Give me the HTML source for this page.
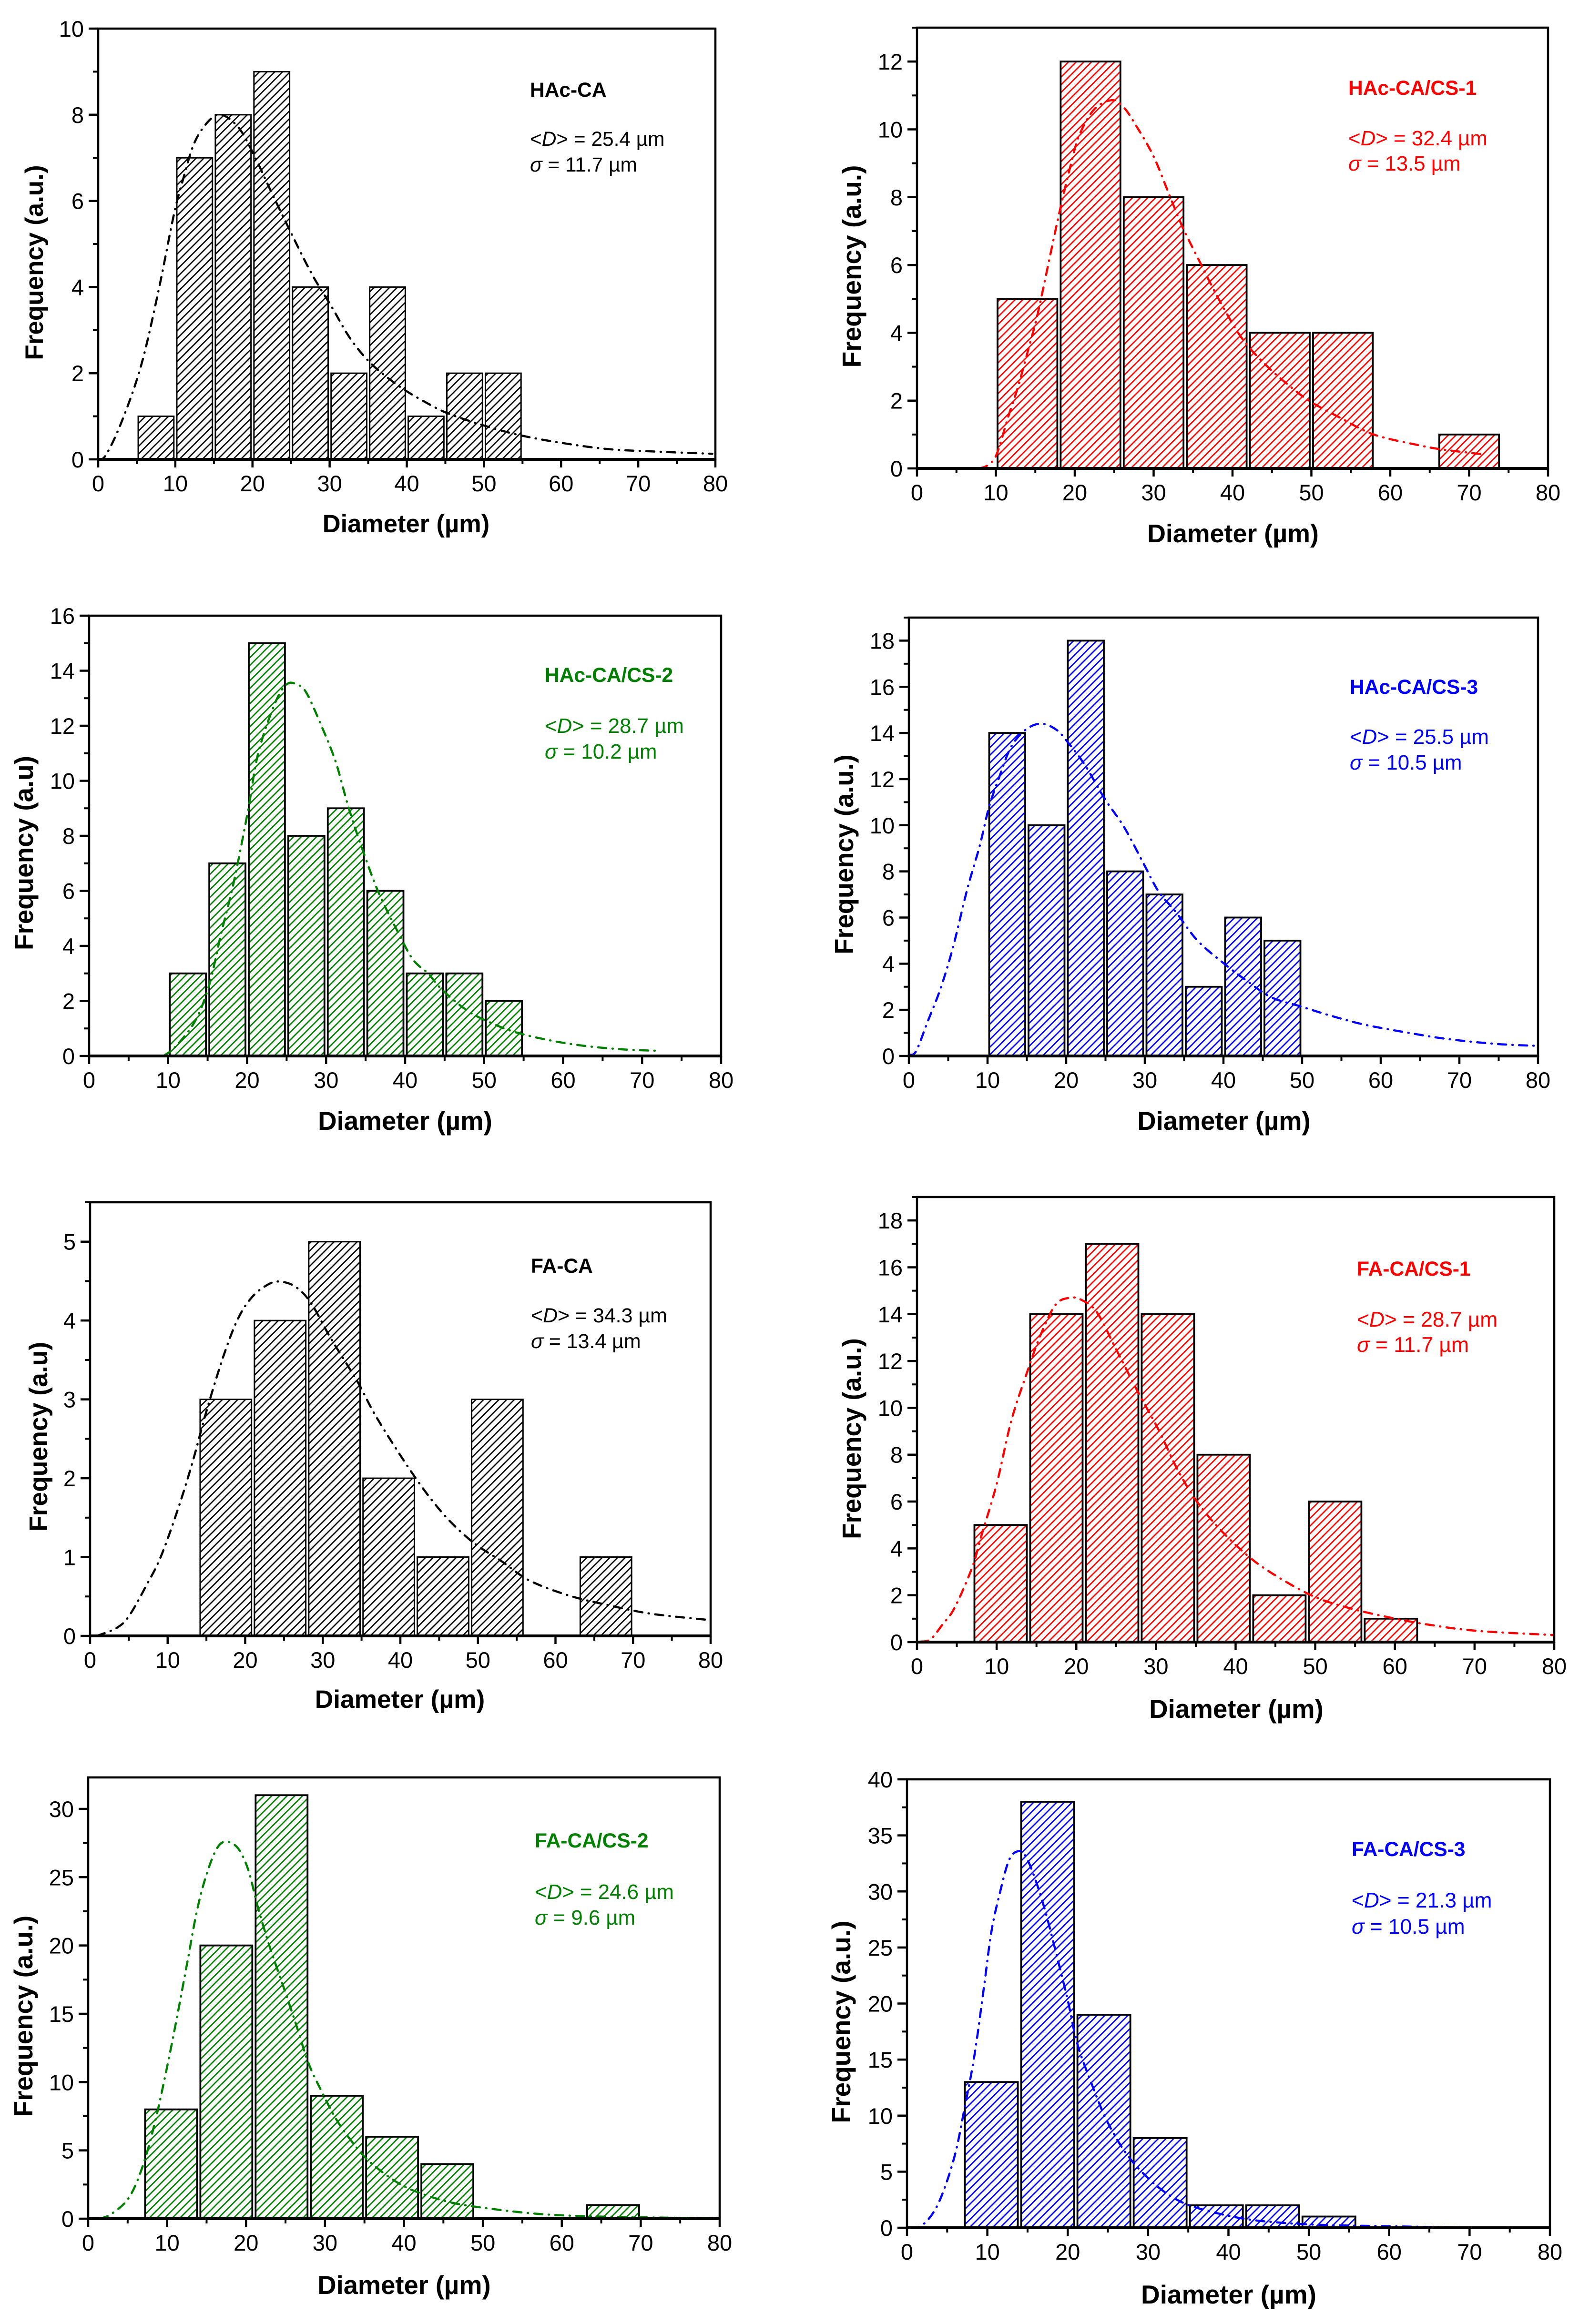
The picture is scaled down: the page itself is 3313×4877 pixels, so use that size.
<!DOCTYPE html>
<html lang="en">
<head>
<meta charset="utf-8">
<title>Fibre diameter histograms</title>
<style>
html,body{margin:0;padding:0;background:#fff}
svg{display:block}
text{font-family:"Liberation Sans",sans-serif;fill:#000}
.tk{font-size:47px}
.xt,.yt{font-weight:bold}
.ttl{font-size:42.5px;font-weight:bold}
.ann tspan.i{font-style:italic}
#c1 .ann{font-size:42.4px} #c1 .xt{font-size:52.4px} #c1 .yt{font-size:53px}
#c2 .ann{font-size:43.8px} #c2 .xt{font-size:53.8px} #c2 .yt{font-size:55px}
#c3 .ann{font-size:43.8px} #c3 .xt{font-size:54.7px} #c3 .yt{font-size:54.8px}
#c4 .ann{font-size:43.8px} #c4 .xt{font-size:54.3px} #c4 .yt{font-size:54.3px}
#c5 .ann{font-size:42.9px} #c5 .xt{font-size:53.3px} #c5 .yt{font-size:53.5px}
#c6 .ann{font-size:44.3px} #c6 .xt{font-size:54.7px} #c6 .yt{font-size:54.6px}
#c7 .ann{font-size:43.8px} #c7 .xt{font-size:54.3px} #c7 .yt{font-size:54.7px}
#c8 .ann{font-size:44.2px} #c8 .xt{font-size:55px} #c8 .yt{font-size:55px}
</style>
</head>
<body>
<svg id="figure" xmlns="http://www.w3.org/2000/svg" width="3313" height="4877" viewBox="0 0 3313 4877">
<defs>
<pattern id="hatch-black" patternUnits="userSpaceOnUse" width="11.4" height="11.4" patternTransform="rotate(45)"><rect width="2.7" height="11.4" fill="#000"/></pattern>
<pattern id="hatch-red" patternUnits="userSpaceOnUse" width="11.4" height="11.4" patternTransform="rotate(45)"><rect width="2.8" height="11.4" fill="#f00"/></pattern>
<pattern id="hatch-green" patternUnits="userSpaceOnUse" width="11.4" height="11.4" patternTransform="rotate(45)"><rect width="2.8" height="11.4" fill="#008000"/></pattern>
<pattern id="hatch-blue" patternUnits="userSpaceOnUse" width="11.4" height="11.4" patternTransform="rotate(45)"><rect width="2.8" height="11.4" fill="#00f"/></pattern>
</defs>
<rect width="3313" height="4877" fill="#fff"/>

<g id="c1">
<g class="marks"></g>
<text class="ttl" x="1112" y="203">HAc-CA</text>
<text class="ann" x="1112" y="306">&lt;<tspan class="i">D</tspan>&gt; = 25.4 µm</text>
<text class="ann" x="1112" y="360"><tspan class="i">σ</tspan> = 11.7 µm</text>
<text class="xt" text-anchor="middle" x="852" y="1117">Diameter (µm)</text>
<text class="yt" text-anchor="middle" transform="translate(90,551) rotate(-90)">Frequency (a.u.)</text>
</g>

<g id="c2">
<g class="marks"></g>
<text class="ttl" x="2829" y="199" style="fill:#f00">HAc-CA/CS-1</text>
<text class="ann" x="2829" y="305" style="fill:#f00">&lt;<tspan class="i">D</tspan>&gt; = 32.4 µm</text>
<text class="ann" x="2829" y="358" style="fill:#f00"><tspan class="i">σ</tspan> = 13.5 µm</text>
<text class="xt" text-anchor="middle" x="2587" y="1138">Diameter (µm)</text>
<text class="yt" text-anchor="middle" transform="translate(1806,559) rotate(-90)">Frequency (a.u.)</text>
</g>

<g id="c3">
<g class="marks"></g>
<text class="ttl" x="1143" y="1431" style="fill:#008000">HAc-CA/CS-2</text>
<text class="ann" x="1143" y="1538" style="fill:#008000">&lt;<tspan class="i">D</tspan>&gt; = 28.7 µm</text>
<text class="ann" x="1143" y="1592" style="fill:#008000"><tspan class="i">σ</tspan> = 10.2 µm</text>
<text class="xt" text-anchor="middle" x="850" y="2371">Diameter (µm)</text>
<text class="yt" text-anchor="middle" transform="translate(69,1790) rotate(-90)">Frequency (a.u)</text>
</g>

<g id="c4">
<g class="marks"></g>
<text class="ttl" x="2832" y="1456" style="fill:#00f">HAc-CA/CS-3</text>
<text class="ann" x="2832" y="1561" style="fill:#00f">&lt;<tspan class="i">D</tspan>&gt; = 25.5 µm</text>
<text class="ann" x="2832" y="1615" style="fill:#00f"><tspan class="i">σ</tspan> = 10.5 µm</text>
<text class="xt" text-anchor="middle" x="2568" y="2371">Diameter (µm)</text>
<text class="yt" text-anchor="middle" transform="translate(1790,1793) rotate(-90)">Frequency (a.u.)</text>
</g>

<g id="c5">
<g class="marks"></g>
<text class="ttl" x="1114" y="2671">FA-CA</text>
<text class="ann" x="1114" y="2775">&lt;<tspan class="i">D</tspan>&gt; = 34.3 µm</text>
<text class="ann" x="1114" y="2829"><tspan class="i">σ</tspan> = 13.4 µm</text>
<text class="xt" text-anchor="middle" x="839" y="3584">Diameter (µm)</text>
<text class="yt" text-anchor="middle" transform="translate(99,3015) rotate(-90)">Frequency (a.u)</text>
</g>

<g id="c6">
<g class="marks"></g>
<text class="ttl" x="2847" y="2677" style="fill:#f00">FA-CA/CS-1</text>
<text class="ann" x="2847" y="2784" style="fill:#f00">&lt;<tspan class="i">D</tspan>&gt; = 28.7 µm</text>
<text class="ann" x="2847" y="2837" style="fill:#f00"><tspan class="i">σ</tspan> = 11.7 µm</text>
<text class="xt" text-anchor="middle" x="2594" y="3605">Diameter (µm)</text>
<text class="yt" text-anchor="middle" transform="translate(1806,3019) rotate(-90)">Frequency (a.u.)</text>
</g>

<g id="c7">
<g class="marks"></g>
<text class="ttl" x="1122" y="3877" style="fill:#008000">FA-CA/CS-2</text>
<text class="ann" x="1122" y="3985" style="fill:#008000">&lt;<tspan class="i">D</tspan>&gt; = 24.6 µm</text>
<text class="ann" x="1122" y="4039" style="fill:#008000"><tspan class="i">σ</tspan> = 9.6 µm</text>
<text class="xt" text-anchor="middle" x="848" y="4814">Diameter (µm)</text>
<text class="yt" text-anchor="middle" transform="translate(68,4231) rotate(-90)">Frequency (a.u.)</text>
</g>

<g id="c8">
<g class="marks"></g>
<text class="ttl" x="2836" y="3895" style="fill:#00f">FA-CA/CS-3</text>
<text class="ann" x="2836" y="4003" style="fill:#00f">&lt;<tspan class="i">D</tspan>&gt; = 21.3 µm</text>
<text class="ann" x="2836" y="4058" style="fill:#00f"><tspan class="i">σ</tspan> = 10.5 µm</text>
<text class="xt" text-anchor="middle" x="2578" y="4834">Diameter (µm)</text>
<text class="yt" text-anchor="middle" transform="translate(1784,4243) rotate(-90)">Frequency (a.u.)</text>
</g>
</svg>

<script>
// Shared x-axis tick labels
const xTickLabels = [0,10,20,30,40,50,60,70,80];

// HAc-CA
const hacCaEdges = [5,10,15,20,25,30,35,40,45,50,55];
const hacCaCounts = [1,7,8,9,4,2,4,1,2,2];
const hacCaFitX = [0,1,3.1,5.6,7.8,9.8,11,12.5,14.4,16,18.2,20.1,22.3,24.8,27.7,30.2,32.7,35.5,39,42.1,45.3,50.3,54.7,59.8,66,72.4,79.6];
const hacCaFitY = [0,0.1,0.9,2.2,3.9,5.67,6.5,7.36,7.87,8,7.7,7.1,6.26,5.33,4.3,3.56,2.8,2.2,1.7,1.36,1.07,0.77,0.56,0.39,0.24,0.18,0.13];
const hacCaYTicks = [0,2,4,6,8,10];

// HAc-CA/CS-1
const hacCs1Edges = [10,18,26,34,42,50,58,66,74];
const hacCs1Counts = [5,12,8,6,4,4,0,1];
const hacCs1FitX = [7.9,9,10.1,11.6,12.8,14.1,15.3,16.9,18.1,19.4,20.6,22.5,24.7,26.2,27.8,30,32.1,33.7,35.9,38,40.5,42.4,44.9,47.4,49.8,53.6,57.9,63.5,66.6,71.6];
const hacCs1FitY = [0,0.1,0.42,1.55,2.4,3.5,4.56,6.3,7.6,8.87,9.84,10.6,10.86,10.65,10.1,9.2,8,7.1,6.07,5.1,4.08,3.49,2.9,2.4,1.98,1.5,1,0.69,0.56,0.42];
const hacCs1YTicks = [0,2,4,6,8,10,12];

// HAc-CA/CS-2
const hacCs2Edges = [10,15,20,25,30,35,40,45,50,55];
const hacCs2Counts = [3,7,15,8,9,6,3,3,2];
const hacCs2FitX = [9.4,10.9,13.4,15.2,16.7,18.3,20.1,21.4,23.5,25,26.3,27.5,29.4,31.2,32.8,34.6,36.7,39.2,41,42.9,44.7,47.8,50.9,54,58.3,62.6,67.5,71.8];
const hacCs2FitY = [0,0.33,1.26,2.58,4.44,6.3,8.9,11,12.8,13.5,13.5,13.2,12,10.7,9.07,7.5,5.9,4.44,3.5,3,2.4,1.66,1.2,0.86,0.57,0.37,0.24,0.19];
const hacCs2YTicks = [0,2,4,6,8,10,12,14,16];

// HAc-CA/CS-3
const hacCs3Edges = [10,15,20,25,30,35,40,45,50];
const hacCs3Counts = [14,10,18,8,7,3,6,5];
const hacCs3FitX = [0,0.9,2.4,4,5.6,7.4,9,10.2,11.5,13,14.9,16.8,18.7,20.2,22.4,24.9,27.4,29.9,31.8,33.9,36.7,40.2,43,46.1,49.8,53.6,57.9,63.6,68.6,74.8,79.8];
const hacCs3FitY = [0.06,0.2,1.5,2.9,4.7,7.2,9.1,10.8,12.1,13.4,14.15,14.4,14.15,13.6,12.6,11.15,9.9,8.3,7.1,6.26,5,3.97,3.25,2.54,2.15,1.75,1.36,1,0.73,0.52,0.44];
const hacCs3YTicks = [0,2,4,6,8,10,12,14,16,18];

// FA-CA
const faCaEdges = [14,21,28,35,42,49,56,63,70];
const faCaCounts = [3,4,5,2,1,3,0,1];
const faCaFitX = [0.9,3.4,5,7.2,9.1,11.3,13.2,15,17.2,19.1,21,23.2,24.8,26.6,28.5,31,34.5,37,41.7,45.5,49.2,53,56.7,61.8,66.8,72.4,80];
const faCaFitY = [0,0.1,0.25,0.63,1,1.6,2.2,2.85,3.55,4.03,4.31,4.47,4.49,4.42,4.22,3.78,3.22,2.76,2.04,1.55,1.2,0.95,0.7,0.51,0.39,0.28,0.2];
const faCaYTicks = [0,1,2,3,4,5];

// FA-CA/CS-1
const faCs1Edges = [7,14,21,28,35,42,49,56,63];
const faCs1Counts = [5,14,17,14,8,2,6,1];
const faCs1FitX = [0.4,1.7,3.2,4.7,6.9,8.1,10,11.8,13.7,15.5,17.4,19.2,20.7,22.6,25,27.8,30.3,32.7,35.2,38.3,42,45.7,50,54.3,59.2,64.1,70.3,80];
const faCs1FitY = [0.02,0.12,0.75,1.45,3.16,4.56,6.74,9.4,11.4,13.1,14.4,14.7,14.6,14.07,12.5,10.64,9.08,7.37,5.97,4.72,3.55,2.7,1.92,1.45,1.06,0.75,0.48,0.3];
const faCs1YTicks = [0,2,4,6,8,10,12,14,16,18];

// FA-CA/CS-2
const faCs2Edges = [7,14,21,28,35,42,49,56,63,70];
const faCs2Counts = [8,20,31,9,6,4,0,0,1];
const faCs2FitX = [1.5,3,5.2,7,8.6,10.1,11.3,12.6,13.8,15,16.3,17.5,19,20.3,21.5,23,24.9,26.4,27.9,29.5,31.3,33.2,35.6,39.3,42.4,46.1,50.4,56.6,62.7,70.1,80];
const faCs2FitY = [0,0.37,1.57,4,7.4,11.4,14.9,18.9,22.6,25.2,27.1,27.6,27.1,25.5,22.8,19.9,16.7,14.1,11.4,9.4,7.4,5.8,4.2,2.6,1.8,1.17,0.77,0.37,0.19,0.1,0.03];
const faCs2YTicks = [0,5,10,15,20,25,30];

// FA-CA/CS-3
const faCs3Edges = [7,14,21,28,35,42,49,56];
const faCs3Counts = [13,38,19,8,2,2,1];
const faCs3FitX = [0.5,1.7,3.2,4.5,6,7.2,8.4,9.6,10.5,11.5,12.7,13.9,14.8,16,17.3,18.8,20,21.2,23,24.9,27.3,30.1,33.1,36.2,41.6,46.5,51.4,60,69.7,80];
const faCs3FitY = [0,0.13,1.27,3.2,6.6,10.8,15.4,21.6,26.4,29.7,32.8,33.6,33.1,31,28,23.8,20.3,16.4,12.8,9.5,6.6,4.35,2.7,1.75,0.84,0.45,0.26,0.13,0.03,0];
const faCs3YTicks = [0,5,10,15,20,25,30,35,40];

const panels = [
 {id:'c1',L:206,R:1501,T:60,B:964,yMax:10,edges:hacCaEdges,counts:hacCaCounts,fitX:hacCaFitX,fitY:hacCaFitY,yTicks:hacCaYTicks,color:'#000',hatch:'hatch-black',sw:3},
 {id:'c2',L:1924,R:3248,T:58,B:983,yMax:13,edges:hacCs1Edges,counts:hacCs1Counts,fitX:hacCs1FitX,fitY:hacCs1FitY,yTicks:hacCs1YTicks,color:'#f00',hatch:'hatch-red',sw:3.8},
 {id:'c3',L:187,R:1513,T:1292,B:2216,yMax:16,edges:hacCs2Edges,counts:hacCs2Counts,fitX:hacCs2FitX,fitY:hacCs2FitY,yTicks:hacCs2YTicks,color:'#008000',hatch:'hatch-green',sw:3.8},
 {id:'c4',L:1907,R:3227,T:1296,B:2216,yMax:19,edges:hacCs3Edges,counts:hacCs3Counts,fitX:hacCs3FitX,fitY:hacCs3FitY,yTicks:hacCs3YTicks,color:'#00f',hatch:'hatch-blue',sw:3.8},
 {id:'c5',L:189,R:1491,T:2523,B:3433,yMax:5.5,edges:faCaEdges,counts:faCaCounts,fitX:faCaFitX,fitY:faCaFitY,yTicks:faCaYTicks,color:'#000',hatch:'hatch-black',sw:3},
 {id:'c6',L:1924,R:3261,T:2512,B:3446,yMax:19,edges:faCs1Edges,counts:faCs1Counts,fitX:faCs1FitX,fitY:faCs1FitY,yTicks:faCs1YTicks,color:'#f00',hatch:'hatch-red',sw:3.8},
 {id:'c7',L:185,R:1510,T:3730,B:4656,yMax:32.3,edges:faCs2Edges,counts:faCs2Counts,fitX:faCs2FitX,fitY:faCs2FitY,yTicks:faCs2YTicks,color:'#008000',hatch:'hatch-green',sw:3.8},
 {id:'c8',L:1903,R:3252,T:3734,B:4675,yMax:40,edges:faCs3Edges,counts:faCs3Counts,fitX:faCs3FitX,fitY:faCs3FitY,yTicks:faCs3YTicks,color:'#00f',hatch:'hatch-blue',sw:3.8}
];

const NS = 'http://www.w3.org/2000/svg';
function mk(parent, tag, attrs, name) {
  const el = document.createElementNS(NS, tag);
  for (const k in attrs) el.setAttribute(k, attrs[k]);
  
  
  parent.appendChild(el);
  return el;
}
function smoothPath(pts) {
  let d = 'M' + pts[0][0].toFixed(1) + ' ' + pts[0][1].toFixed(1);
  for (let i = 0; i < pts.length - 1; i++) {
    const p0 = pts[Math.max(i - 1, 0)], p1 = pts[i], p2 = pts[i + 1], p3 = pts[Math.min(i + 2, pts.length - 1)];
    const c1x = p1[0] + (p2[0] - p0[0]) / 6, c1y = p1[1] + (p2[1] - p0[1]) / 6;
    const c2x = p2[0] - (p3[0] - p1[0]) / 6, c2y = p2[1] - (p3[1] - p1[1]) / 6;
    d += 'C' + c1x.toFixed(1) + ' ' + c1y.toFixed(1) + ' ' + c2x.toFixed(1) + ' ' + c2y.toFixed(1) + ' ' + p2[0].toFixed(1) + ' ' + p2[1].toFixed(1);
  }
  return d;
}
panels.forEach(function (p) {
  const g = document.querySelector('#' + p.id + ' .marks');
  const sx = function (v) { return p.L + (v / 80) * (p.R - p.L); };
  const sy = function (v) { return p.B - (v / p.yMax) * (p.B - p.T); };
  const inset = 1.6 + p.sw / 2;

  // bars
  p.counts.forEach(function (c, i) {
    if (!c) return;
    const x0 = sx(p.edges[i]) + inset, x1 = sx(p.edges[i + 1]) - inset;
    mk(g, 'rect', {x: x0, y: sy(c), width: x1 - x0, height: sy(0) - sy(c), fill: 'url(#' + p.hatch + ')', stroke: '#000', 'stroke-width': p.sw}, 'histogram-bar');
  });

  // fit curve
  const pts = p.fitX.map(function (x, i) { return [sx(x), sy(p.fitY[i])]; });
  mk(g, 'path', {d: smoothPath(pts), fill: 'none', stroke: p.color, 'stroke-width': 4.5, 'stroke-dasharray': '17 13 1 13', 'stroke-linecap': 'round'}, 'fit-curve');

  // frame
  mk(g, 'rect', {x: p.L, y: p.T, width: p.R - p.L, height: p.B - p.T, fill: 'none', stroke: '#000', 'stroke-width': 4.5}, 'plot-frame');
  mk(g, 'line', {x1: p.L - 2, x2: p.R + 2, y1: p.B, y2: p.B, stroke: '#000', 'stroke-width': 6}, 'x-axis-line');

  // x ticks
  xTickLabels.forEach(function (v, i) {
    mk(g, 'line', {x1: sx(v), x2: sx(v), y1: p.B, y2: p.B + 17, stroke: '#000', 'stroke-width': 4.5}, 'x-major-tick');
    const t = mk(g, 'text', {x: sx(v), y: p.B + 67, 'text-anchor': 'middle', class: 'tk'}, 'x-tick-label');
    t.textContent = v;
    if (i < xTickLabels.length - 1) {
      const m = (v + xTickLabels[i + 1]) / 2;
      mk(g, 'line', {x1: sx(m), x2: sx(m), y1: p.B, y2: p.B + 10, stroke: '#000', 'stroke-width': 4}, 'x-minor-tick');
    }
  });

  // y ticks
  const step = p.yTicks[1] - p.yTicks[0];
  p.yTicks.forEach(function (v) {
    mk(g, 'line', {x1: p.L - 20, x2: p.L, y1: sy(v), y2: sy(v), stroke: '#000', 'stroke-width': 4.5}, 'y-major-tick');
    const t = mk(g, 'text', {x: p.L - 30, y: sy(v) + 17, 'text-anchor': 'end', class: 'tk'}, 'y-tick-label');
    t.textContent = v;
    const m = v + step / 2;
    if (m <= p.yMax) {
      mk(g, 'line', {x1: p.L - 11, x2: p.L, y1: sy(m), y2: sy(m), stroke: '#000', 'stroke-width': 4}, 'y-minor-tick');
    }
  });
});
</script>
</body>
</html>
